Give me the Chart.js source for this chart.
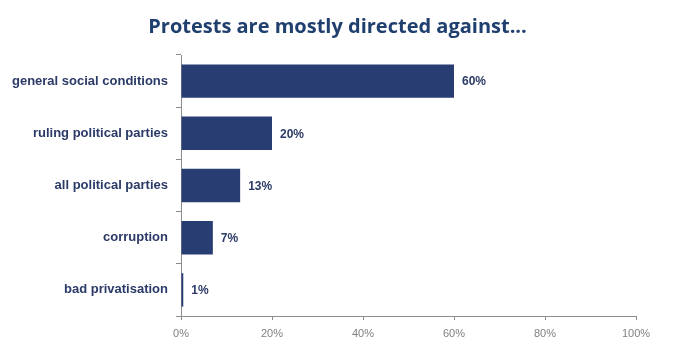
<!DOCTYPE html>
<html><head><meta charset="utf-8">
<script src="https://cdn.jsdelivr.net/npm/chart.js@4"></script>
<style>html,body{margin:0;padding:0;background:#fff}#wrap{width:675px;height:351px}</style>
</head><body><div id="wrap"><canvas id="c" width="675" height="351"></canvas></div>
<script>
const chartTitle = "Protests are mostly directed against...";
const categories = ["general social conditions","ruling political parties","all political parties","corruption","bad privatisation"];
const values = [60, 20, 13, 7, 0.5];
const valueLabels = ["60%","20%","13%","7%","1%"];
const xTicks = [0, 20, 40, 60, 80, 100];

const valueLabelPlugin = {
  id: 'valueLabels',
  afterDatasetsDraw(chart) {
    const ctx = chart.ctx;
    const meta = chart.getDatasetMeta(0);
    ctx.save();
    ctx.font = 'bold 12px "Liberation Sans", Arial, sans-serif';
    ctx.fillStyle = '#2B3A67';
    ctx.textAlign = 'left';
    ctx.textBaseline = 'middle';
    meta.data.forEach((bar, i) => {
      ctx.fillText(valueLabels[i], bar.x + 8, bar.y + 1);
    });
    ctx.restore();
  }
};

const titlePlugin = {
  id: 'centeredTitle',
  afterDraw(chart) {
    const ctx = chart.ctx;
    ctx.save();
    ctx.font = 'bold 20px "Open Sans", sans-serif';
    ctx.fillStyle = '#1F3F6E';
    ctx.textAlign = 'center';
    ctx.textBaseline = 'middle';
    ctx.fillText(chartTitle, chart.width / 2, 27);
    ctx.restore();
  }
};

new Chart(document.getElementById('c'), {
  type: 'bar',
  data: {
    labels: categories,
    datasets: [{
      data: values,
      backgroundColor: '#283D72',
      borderWidth: 0,
      barPercentage: 0.8,
      categoryPercentage: 0.8
    }]
  },
  options: {
    indexAxis: 'y',
    responsive: false,
    animation: false,
    layout: { padding: { left: 0, right: 39, top: 55, bottom: 0 } },
    plugins: {
      legend: { display: false },
      tooltip: { enabled: false },
      title: { display: false }
    },
    scales: {
      x: {
        min: 0, max: 100,
        afterBuildTicks(scale) { scale.ticks = xTicks.map(v => ({ value: v })); },
        afterFit(scale) { scale.height = 35; },
        border: { display: true, color: '#8C8C8C', width: 1 },
        grid: { drawOnChartArea: false, drawTicks: true, tickLength: 4, color: '#8C8C8C' },
        ticks: {
          color: '#808080',
          font: { family: '"Liberation Sans", Arial, sans-serif', size: 11 },
          padding: 7,
          maxRotation: 0,
          callback: v => v + '%'
        }
      },
      y: {
        afterFit(scale) { scale.width = 181; },
        border: { display: true, color: '#8C8C8C', width: 1 },
        grid: { drawOnChartArea: false, drawTicks: true, tickLength: 5, color: '#8C8C8C', offset: true },
        ticks: {
          color: '#2B3A67',
          font: { family: '"Liberation Sans", Arial, sans-serif', size: 13, weight: 'bold' },
          padding: 8
        }
      }
    }
  },
  plugins: [valueLabelPlugin, titlePlugin]
});
</script></body></html>
